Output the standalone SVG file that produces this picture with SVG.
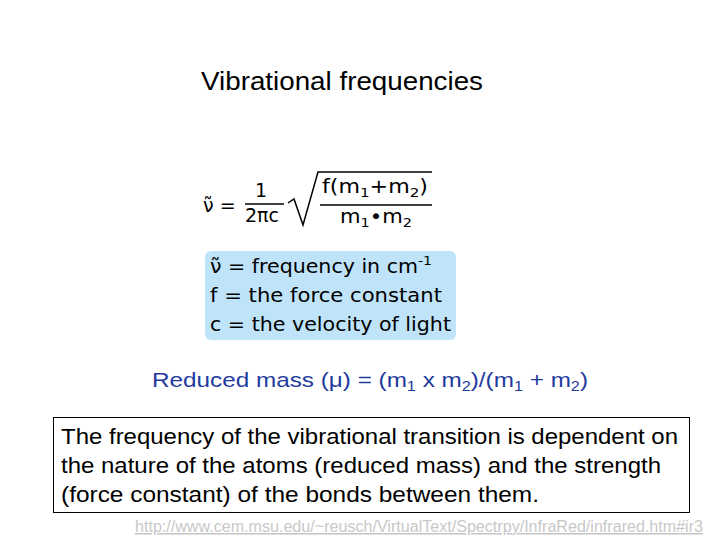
<svg xmlns="http://www.w3.org/2000/svg" width="720" height="540" viewBox="0 0 720 540">
<style>
text{font-family:"Liberation Sans",Arial,sans-serif;fill:#000}
.v{font-family:Verdana,"DejaVu Sans",sans-serif;font-size:19px}
.sub{font-size:13px}
</style>
<rect width="720" height="540" fill="#fff"/>
<g id="title"><text x="201" y="90" font-size="25" textLength="282" lengthAdjust="spacingAndGlyphs">Vibrational frequencies</text></g>
<g id="formula">
<text class="v" x="203" y="212">ν̃ =</text>
<text class="v" x="255" y="197">1</text>
<line x1="245" y1="204" x2="284" y2="204" stroke="#000" stroke-width="1.5"/>
<text class="v" x="245" y="222">2πc</text>
<polyline points="288,203 294,199 303,225 318,172 432,172" fill="none" stroke="#000" stroke-width="1.5"/>
<text class="v" x="322" y="193" textLength="106" lengthAdjust="spacingAndGlyphs">f(m<tspan class="sub" dy="4">1</tspan><tspan dy="-4">+m</tspan><tspan class="sub" dy="4">2</tspan><tspan dy="-4">)</tspan></text>
<line x1="320" y1="205" x2="432" y2="205" stroke="#000" stroke-width="1.5"/>
<text class="v" x="340" y="223" textLength="72" lengthAdjust="spacingAndGlyphs">m<tspan class="sub" dy="4">1</tspan><tspan dy="-4">•m</tspan><tspan class="sub" dy="4">2</tspan></text>
</g>
<g id="legend">
<rect x="205" y="251" width="251" height="89" rx="6" fill="#bfe3f8"/>
<text class="v" x="210" y="273" textLength="222" lengthAdjust="spacingAndGlyphs">ν̃ = frequency in cm<tspan class="sub" dy="-8">-1</tspan></text>
<text class="v" x="210" y="302" textLength="232" lengthAdjust="spacingAndGlyphs">f = the force constant</text>
<text class="v" x="210" y="331" textLength="241" lengthAdjust="spacingAndGlyphs">c = the velocity of light</text>
</g>
<g id="reduced"><text x="152" y="387" font-size="21" style="fill:#1f3b9e" textLength="436" lengthAdjust="spacingAndGlyphs">Reduced mass (μ)  = (m<tspan font-size="14" dy="4">1</tspan><tspan dy="-4"> x m</tspan><tspan font-size="14" dy="4">2</tspan><tspan dy="-4">)/(m</tspan><tspan font-size="14" dy="4">1</tspan><tspan dy="-4"> + m</tspan><tspan font-size="14" dy="4">2</tspan><tspan dy="-4">)</tspan></text></g>
<g id="note">
<rect x="53.5" y="417.5" width="636" height="95" fill="#fff" stroke="#000" stroke-width="1"/>
<text x="61" y="444" font-size="22" textLength="617" lengthAdjust="spacingAndGlyphs">The frequency of the vibrational transition is dependent on</text>
<text x="61" y="473" font-size="22" textLength="600" lengthAdjust="spacingAndGlyphs">the nature of the atoms (reduced mass) and the strength</text>
<text x="61" y="502" font-size="22" textLength="478" lengthAdjust="spacingAndGlyphs">(force constant) of the bonds between them.</text>
</g>
<g id="link"><text x="135" y="532" font-size="16" style="fill:#c8c8c8" text-decoration="underline" textLength="568" lengthAdjust="spacingAndGlyphs">http://www.cem.msu.edu/~reusch/VirtualText/Spectrpy/InfraRed/infrared.htm#ir3</text></g>
</svg>
